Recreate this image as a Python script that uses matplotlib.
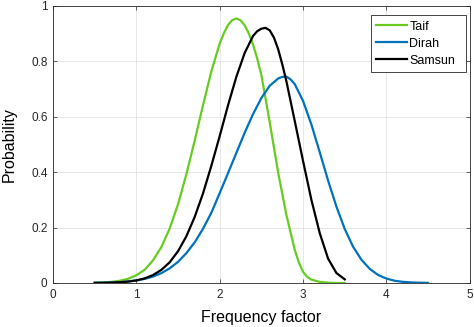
import matplotlib
matplotlib.use('Agg')
import matplotlib.pyplot as plt

plt.rcParams['font.family'] = ['Liberation Sans', 'DejaVu Sans']

# valori
taif_x = [0.5, 0.6, 0.7, 0.8, 0.9, 1.0, 1.1, 1.2, 1.3, 1.4, 1.5, 1.6, 1.7, 1.8, 1.9, 2.0, 2.05, 2.1, 2.15, 2.2,
          2.25, 2.3, 2.35, 2.4, 2.45, 2.5, 2.6, 2.7, 2.8, 2.9, 2.95, 3.0, 3.05, 3.1, 3.2, 3.3, 3.4, 3.5]
taif_y = [0.001, 0.002, 0.004, 0.008, 0.015, 0.028, 0.048, 0.082, 0.13, 0.197, 0.285, 0.393, 0.515, 0.643, 0.765,
          0.865, 0.902, 0.932, 0.949, 0.955, 0.948, 0.93, 0.9, 0.86, 0.81, 0.75, 0.58, 0.4, 0.245, 0.12, 0.073,
          0.04, 0.022, 0.012, 0.004, 0.001, 0.0, 0.0]

dirah_x = [0.5, 0.6, 0.7, 0.8, 0.9, 1.0, 1.1, 1.2, 1.3, 1.4, 1.5, 1.6, 1.7, 1.8, 1.9, 2.0, 2.1, 2.2, 2.3, 2.4,
           2.5, 2.6, 2.7, 2.75, 2.8, 2.85, 2.9, 3.0, 3.1, 3.2, 3.3, 3.4, 3.5, 3.6, 3.7, 3.8, 3.9, 4.0, 4.1,
           4.2, 4.3, 4.4, 4.5]
dirah_y = [0.0005, 0.001, 0.0018, 0.0032, 0.0055, 0.0091, 0.0148, 0.0233, 0.0356, 0.053, 0.0765, 0.108, 0.147,
           0.196, 0.254, 0.325, 0.397, 0.47, 0.543, 0.61, 0.668, 0.712, 0.738, 0.744, 0.745, 0.735, 0.718, 0.657,
           0.572, 0.472, 0.37, 0.276, 0.195, 0.131, 0.084, 0.051, 0.029, 0.016, 0.008, 0.004, 0.002, 0.001, 0.0004]

samsun_x = [0.5, 0.6, 0.7, 0.8, 0.9, 1.0, 1.1, 1.2, 1.3, 1.4, 1.5, 1.6, 1.7, 1.8, 1.9, 2.0, 2.1, 2.2, 2.3, 2.4,
            2.45, 2.5, 2.55, 2.6, 2.65, 2.7, 2.75, 2.8, 2.9, 3.0, 3.1, 3.2, 3.3, 3.4, 3.5]
samsun_y = [0.0003, 0.0006, 0.0013, 0.0026, 0.005, 0.0093, 0.0167, 0.0288, 0.0475, 0.075, 0.115, 0.169, 0.239,
            0.324, 0.424, 0.531, 0.642, 0.745, 0.831, 0.892, 0.909, 0.918, 0.921, 0.912, 0.886, 0.845, 0.79,
            0.728, 0.585, 0.44, 0.3, 0.18, 0.088, 0.036, 0.013]

x_ticks = [0, 1, 2, 3, 4, 5]
x_labels = ['0', '1', '2', '3', '4', '5']
y_ticks = [0, 0.2, 0.4, 0.6, 0.8, 1]
y_labels = ['0', '0.2', '0.4', '0.6', '0.8', '1']

fig = plt.figure(figsize=(4.74, 3.27), dpi=100)
ax = fig.add_axes([0.112, 0.1346, 0.879, 0.8471])

ax.plot(taif_x, taif_y, color='#66CC22', lw=1.6, label='Taif')
ax.plot(dirah_x, dirah_y, color='#0072BD', lw=1.6, label='Dirah')
ax.plot(samsun_x, samsun_y, color='black', lw=1.6, label='Samsun')

ax.set_xlim(0, 5)
ax.set_ylim(0, 1)
ax.set_xticks(x_ticks)
ax.set_xticklabels(x_labels)
ax.set_yticks(y_ticks)
ax.set_yticklabels(y_labels)
ax.tick_params(direction='in', top=True, right=True, length=3, width=0.5, labelsize=8.5,
               color='#262626', labelcolor='#262626', pad=4)
ax.grid(True, color='#E3E3E3', lw=0.6)
ax.set_axisbelow(True)
for s in ax.spines.values():
    s.set_linewidth(0.6)
    s.set_color('#262626')

ax.set_xlabel('Frequency factor', fontsize=11.5, labelpad=7)
ax.set_ylabel('Probability', fontsize=11.5, labelpad=10)

# legenda stile matlab (larga a destra)
leg = ax.legend(loc='upper left', bbox_to_anchor=(0.762, 0.9675, 0.228, 0.0), mode='expand', borderaxespad=0,
                fontsize=9, handlelength=2.5, handletextpad=0.15, labelspacing=0.4, borderpad=0.45,
                fancybox=False, framealpha=1, edgecolor='#262626')
leg.get_frame().set_linewidth(0.6)

plt.savefig('out.png', dpi=100)
